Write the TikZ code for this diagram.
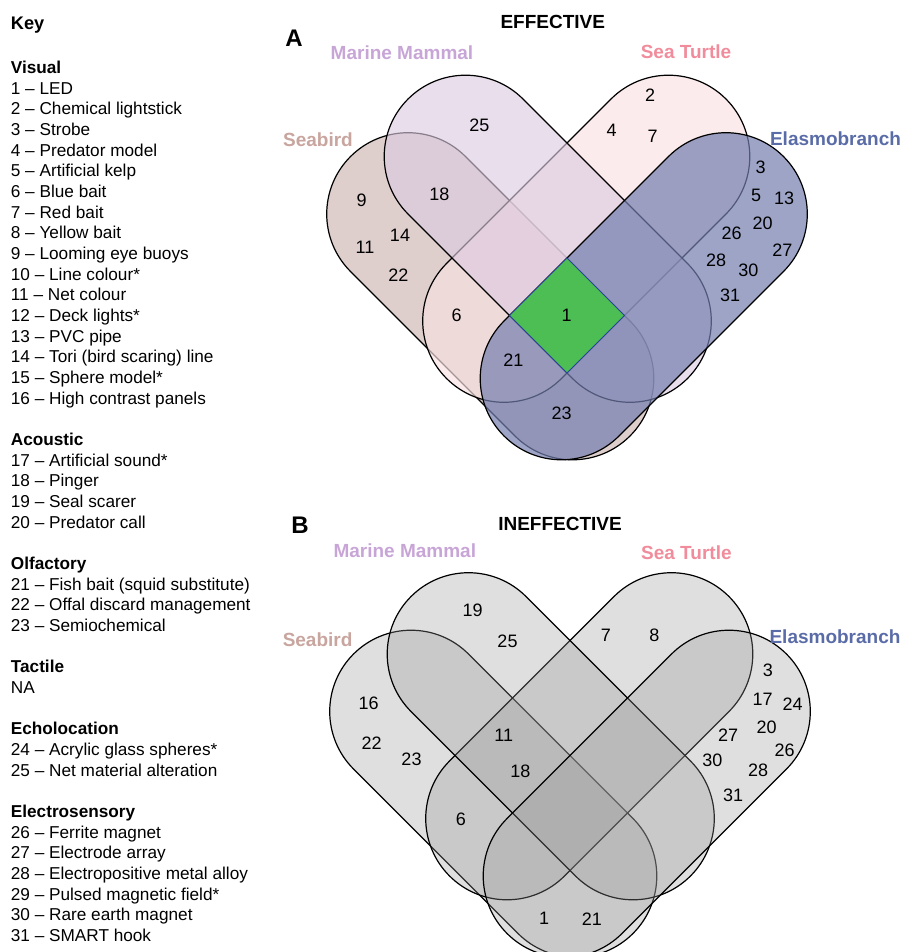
\documentclass[tikz,border=0pt]{standalone}
\usepackage{fontspec}
\setmainfont{Liberation Sans}
\usetikzlibrary{shapes.misc}
\definecolor{sbfill}{RGB}{189,157,153}
\definecolor{stfill}{RGB}{249,225,226}
\definecolor{mmfill}{RGB}{220,202,224}
\definecolor{elfill}{RGB}{115,126,174}
\definecolor{sblab}{RGB}{200,165,158}
\definecolor{mmlab}{RGB}{200,165,215}
\definecolor{stlab}{RGB}{240,140,155}
\definecolor{ellab}{RGB}{90,108,168}
\definecolor{allfour}{RGB}{76,190,84}
\definecolor{allline}{RGB}{40,70,150}
\definecolor{grfill}{RGB}{150,150,150}
\tikzset{
  pill/.style={rounded rectangle,draw=black,line width=1.2pt,inner sep=0pt,outer sep=0pt,
    minimum width=395.2pt,minimum height=162.6pt},
  num/.style={inner sep=0pt,font=\fontsize{18}{21}\selectfont},
  keyline/.style={anchor=base west,inner sep=0pt,font=\fontsize{17.2}{20.67}\selectfont},
  setlab/.style={inner sep=0pt,font=\fontsize{19}{23}\selectfont\bfseries},
  panellab/.style={inner sep=0pt,font=\fontsize{24}{28}\selectfont\bfseries}
}

\begin{document}
\begin{tikzpicture}[x=1pt,y=-1pt]
  \useasboundingbox (0,0) rectangle (903,952);

  % key
  \node[keyline,font=\fontsize{18.2}{21}\selectfont\bfseries] (key) at (10.7,30) {Key};
  \foreach \i/\txt in {0/\textbf{Visual},1/1 -- LED,2/2 -- Chemical lightstick,3/3 -- Strobe,
      4/4 -- Predator model,5/5 -- Artificial kelp,6/6 -- Blue bait,7/7 -- Red bait,
      8/8 -- Yellow bait,9/9 -- Looming eye buoys,10/10 -- Line colour*,11/11 -- Net colour,
      12/12 -- Deck lights*,13/13 -- PVC pipe,14/14 -- Tori (bird scaring) line,
      15/15 -- Sphere model*,16/16 -- High contrast panels,
      18/\textbf{Acoustic},19/17 -- Artificial sound*,20/18 -- Pinger,21/19 -- Seal scarer,
      22/20 -- Predator call,
      24/\textbf{Olfactory},25/21 -- Fish bait (squid substitute),26/22 -- Offal discard management,
      27/23 -- Semiochemical,
      29/\textbf{Tactile},30/NA,
      32/\textbf{Echolocation},33/24 -- Acrylic glass spheres*,34/25 -- Net material alteration,
      36/\textbf{Electrosensory},37/26 -- Ferrite magnet,38/27 -- Electrode array,
      39/28 -- Electropositive metal alloy,40/29 -- Pulsed magnetic field*,
      41/30 -- Rare earth magnet,42/31 -- SMART hook}
    \node[keyline] (key\i) at (10.7,73.5+20.67*\i) {\txt};

  % panel A: effective
  \node[panellab] (A) at (294,38) {A};
  \node[setlab] (titleA) at (552.8,21.7) {EFFECTIVE};
  \node[pill,rotate=-45,fill=sbfill,fill opacity=0.5] (sbA) at (490.25,296.25) {};
  \node[pill,rotate=45,fill=stfill,fill opacity=0.66] (stA) at (586.25,238.75) {};
  \node[pill,rotate=-45,fill=mmfill,fill opacity=0.62] (mmA) at (547.75,238.75) {};
  \node[pill,rotate=45,fill=elfill,fill opacity=0.7] (elA) at (643.75,296.25) {};
  % all four groups
  \filldraw[fill=allfour,draw=allline,line width=0.8pt]
    (567,258) -- (624.5,315.5) -- (567,373) -- (509.5,315.5) -- cycle;

  \node[setlab,text=sblab] (sbAlab) at (318,140) {Seabird};
  \node[setlab,text=mmlab] (mmAlab) at (402,52.3) {Marine Mammal};
  \node[setlab,text=stlab] (stAlab) at (686,52) {Sea Turtle};
  \node[setlab,text=ellab] (elAlab) at (835.5,139) {Elasmobranch};

  \foreach \n/\x/\y in {25/479.3/125.7,18/439.3/194,9/361.7/200,14/400/235,11/365/247.3,
      22/398.3/275,6/456.7/315,1/566.7/315,21/513.3/360,23/561.7/413.3,2/650/95,
      4/611.7/130,7/652.7/136.7,3/760.7/167.3,5/756/195,13/784/198.3,20/762.7/223.3,
      26/731.7/233.3,27/782.3/250,28/716/260,30/748.3/270,31/730/295}
    \node[num] (a\n) at (\x,\y) {\n};

  % panel B: ineffective
  \node[panellab] (B) at (300,525) {B};
  \node[setlab] (titleB) at (560,524) {INEFFECTIVE};
  \begin{scope}[shift={(3,497.5)}]
    \node[pill,rotate=-45,fill=grfill,fill opacity=0.3] (sbB) at (490.25,296.25) {};
    \node[pill,rotate=45,fill=grfill,fill opacity=0.3] (stB) at (586.25,238.75) {};
    \node[pill,rotate=-45,fill=grfill,fill opacity=0.3] (mmB) at (547.75,238.75) {};
    \node[pill,rotate=45,fill=grfill,fill opacity=0.3] (elB) at (643.75,296.25) {};
  \end{scope}

  \node[setlab,text=sblab] (sbBlab) at (317.6,640) {Seabird};
  \node[setlab,text=mmlab] (mmBlab) at (404.8,550.8) {Marine Mammal};
  \node[setlab,text=stlab] (stBlab) at (686.4,553) {Sea Turtle};
  \node[setlab,text=ellab] (elBlab) at (835,636.6) {Elasmobranch};

  \foreach \n/\x/\y in {19/472.7/610,25/507.5/641.7,7/605.8/635,8/654.3/635,3/767.9/670.7,
      17/762.7/699.3,24/792.5/704,20/766.7/727.7,27/728.2/735.7,26/784.6/750,
      30/712.3/760.7,28/758/770.7,31/733/795,16/368.7/703.3,22/371.6/743.3,
      23/411.5/759.3,11/503.8/735,18/520.3/771.7,6/460.8/819.3,1/544.2/918.3,21/591.9/919.5}
    \node[num] (b\n) at (\x,\y) {\n};
\end{tikzpicture}
\end{document}
